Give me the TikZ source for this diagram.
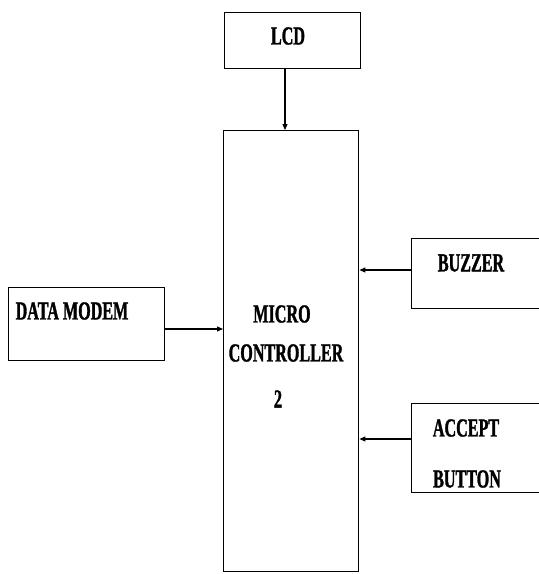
\documentclass[tikz,border=0pt]{standalone}
\usepackage{fontspec}
\setmainfont{Liberation Serif}[BoldFont={Liberation Serif Bold}, BoldFeatures={FakeStretch=0.62, FakeBold=1.2}, FakeStretch=0.62]
\usetikzlibrary{arrows.meta}
\tikzset{
  blk/.style={draw=black, line width=1.4pt, rectangle, inner sep=0pt, anchor=north west},
  lbl/.style={font=\fontsize{26}{28}\selectfont\bfseries, inner sep=0pt},
  conn/.style={draw=black, line width=1.1pt, -{Triangle[length=6pt,width=5pt]}}
}
\begin{document}
\begin{tikzpicture}[x=1pt,y=-1pt]
\useasboundingbox (0,0) rectangle (539,574);
\clip (0,0) rectangle (539,574);
% boxes
\node[blk, minimum width=136pt, minimum height=56pt] (lcd) at (224,12) {};
\node[blk, minimum width=135pt, minimum height=441pt] (mc) at (223,130) {};
\node[blk, minimum width=134pt, minimum height=70pt] (buz) at (411,238) {};
\node[blk, minimum width=156pt, minimum height=73pt] (dm) at (8,287) {};
\node[blk, minimum width=134pt, minimum height=89pt] (acc) at (411,403) {};
% texts
\node[lbl] (tlcd) at (288,36) {LCD};
\node[lbl] (tbuz) at (471,263) {BUZZER};
\node[lbl] (tdm) at (72,311) {DATA MODEM};
\node[lbl] (tacc1) at (466,428) {ACCEPT};
\node[lbl] (tacc2) at (467,479) {BUTTON};
\node[lbl] (tmc1) at (282,314) {MICRO};
\node[lbl] (tmc2) at (286,353) {CONTROLLER};
\node[lbl] (tmc3) at (278,399) {2};
% connector guides
\coordinate (xl) at (285,0);
\coordinate (yb) at (0,270);
\coordinate (yd) at (0,329);
\coordinate (ya) at (0,439);
% connectors
\draw[conn] (lcd.south -| xl) -- (mc.north -| xl);
\draw[conn] (buz.west |- yb) -- (mc.east |- yb);
\draw[conn] (dm.east |- yd) -- (mc.west |- yd);
\draw[conn] (acc.west |- ya) -- (mc.east |- ya);
\end{tikzpicture}
\end{document}
